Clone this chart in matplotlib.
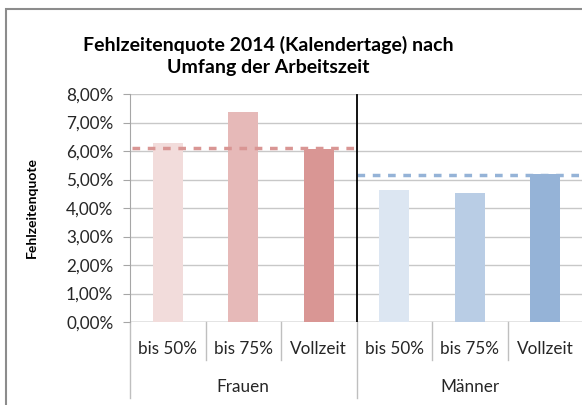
import matplotlib
matplotlib.use('Agg')
from matplotlib import pyplot as plt
from matplotlib.patches import Rectangle
import matplotlib.transforms as mtransforms
from matplotlib.ticker import FuncFormatter

# Data
groups = ['Frauen', 'Männer']
categories = ['bis 50%', 'bis 75%', 'Vollzeit', 'bis 50%', 'bis 75%', 'Vollzeit']
values = [6.27, 7.38, 6.07, 4.63, 4.54, 5.20]
group_means = [6.10, 5.17]
bar_colors = ['#F2DCDB', '#E6B9B8', '#D99694', '#DCE6F2', '#B9CDE5', '#95B3D7']
mean_colors = ['#D99694', '#95B3D7']

plt.rcParams['font.family'] = ['Lato', 'DejaVu Sans']

fig = plt.figure(figsize=(5.82, 4.05), dpi=100)
W, H = 582, 405

# chart border
fig.patches.append(Rectangle((6 / W, -0.1), 1.2, 1 - 9 / H + 0.1, transform=fig.transFigure,
                             fill=False, edgecolor='#8C8C8C', linewidth=1.5))

ax = fig.add_axes([130 / W, 1 - 322 / H, 453 / W, 228 / H])

x = list(range(len(categories)))
ax.bar(x, values, width=0.4, color=bar_colors, zorder=3)

# group averages (dashed) and separator
ax.plot([-0.47, 2.5], [group_means[0]] * 2, color=mean_colors[0], lw=2.5, ls=(0, (2.2, 2.2)), zorder=4)
ax.plot([2.5, 5.5], [group_means[1]] * 2, color=mean_colors[1], lw=2.5, ls=(0, (2.2, 2.2)), zorder=4)
ax.plot([2.5, 2.5], [0, 7.95], color='black', lw=1.3, zorder=5)

ax.set_xlim(-0.5, 5.5)
ax.set_ylim(0, 8)
ax.set_yticks(range(0, 9))
ax.yaxis.set_major_formatter(FuncFormatter(lambda v, p: f'{v:.2f}%'.replace('.', ',')))
ax.tick_params(axis='y', length=5, color='#A6A6A6', labelsize=12.3, pad=7, labelcolor='#262626')
ax.set_xticks([])
ax.grid(axis='y', color='#C8C8C8', lw=1, zorder=0)
for s in ['top', 'right', 'bottom']:
    ax.spines[s].set_visible(False)
ax.spines['left'].set_color('#A6A6A6')
ax.axhline(0, color='#A6A6A6', lw=1, zorder=2)

# multi-level category axis
trans = mtransforms.blended_transform_factory(ax.transData, ax.transAxes)
for i, c in enumerate(categories):
    ax.text(i, -0.118, c, transform=trans, ha='center', va='center', fontsize=12.3, color='#262626')
for b in [0.5, 1.5, 3.5, 4.5, 5.5]:
    ax.plot([b, b], [0, -0.167], transform=trans, color='#BFBFBF', lw=1, clip_on=False)
for b in [-0.5, 2.5]:
    ax.plot([b, b], [0, -0.333], transform=trans, color='#BFBFBF', lw=1, clip_on=False)
for g, gx in zip(groups, [1, 4]):
    ax.text(gx, -0.285, g, transform=trans, ha='center', va='center', fontsize=12.3, color='#262626')

ax.text(-0.216, 0.5, 'Fehlzeitenquote', transform=ax.transAxes, rotation=90, ha='center', va='center',
        fontsize=10, fontweight='bold')

fig.text(268 / W, 1 - 56 / H, 'Fehlzeitenquote 2014 (Kalendertage) nach\nUmfang der Arbeitszeit',
         ha='center', va='center', fontsize=14, fontweight='bold', linespacing=1.4)

plt.savefig('out.png', dpi=100)
